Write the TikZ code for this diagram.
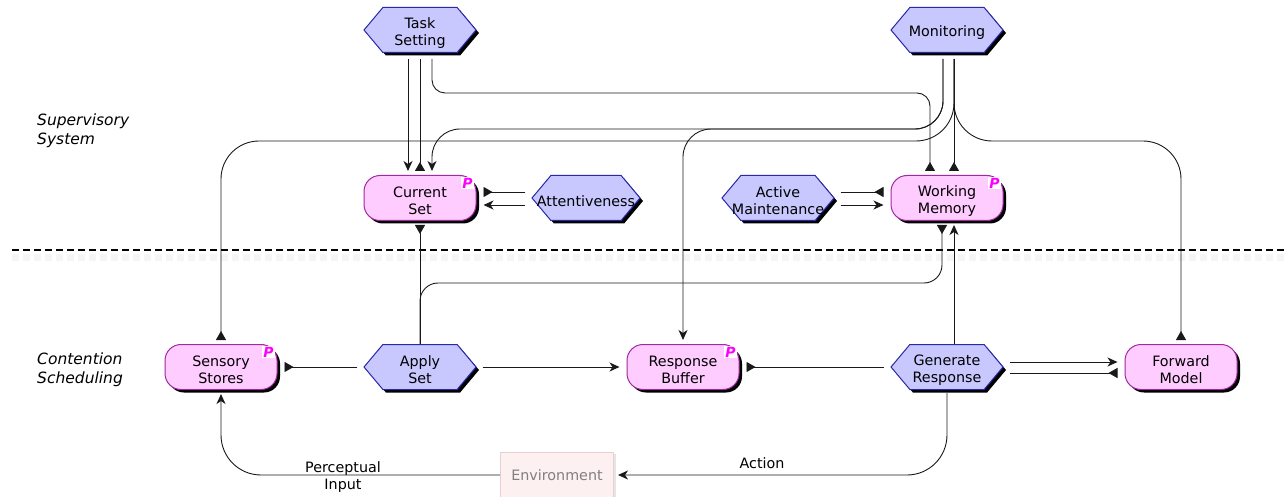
\documentclass[tikz,border=0pt]{standalone}
\usepackage{fontspec}
\setmainfont{DejaVu Sans}
\usetikzlibrary{shapes.symbols,shadows,arrows.meta}
\definecolor{hexfill}{RGB}{200,200,255}
\definecolor{hexdraw}{RGB}{40,40,170}
\definecolor{bufill}{RGB}{255,204,255}
\definecolor{budraw}{RGB}{160,40,160}
\definecolor{envfill}{RGB}{253,240,240}
\definecolor{envdraw}{RGB}{232,208,208}
\definecolor{pcol}{RGB}{255,0,255}
\definecolor{linecol}{RGB}{25,25,25}
\newcommand\ndfont{\fontsize{14.3}{17}\selectfont}
\newcommand\lbfont{\fontsize{15.5}{19}\selectfont\itshape}
\begin{document}
\begin{tikzpicture}[x=1pt,y=-1pt,
  shd/.style={drop shadow={shadow xshift=3pt,shadow yshift=-3pt,fill=black,opacity=1}},
  hexa/.style={signal, signal to=east and west, signal pointer angle=100,
    minimum width=112pt, minimum height=45pt, inner sep=0pt,
    fill=hexfill, draw=hexdraw, line width=1pt, shd},
  ntext/.style={font=\ndfont, align=center, inner sep=0pt},
  buf/.style={rectangle, rounded corners=16pt, minimum width=112pt, minimum height=45pt,
    inner sep=0pt, fill=bufill, draw=budraw, line width=1pt, shd},
  pmark/.style={fill=white, inner sep=1pt, text=pcol, font=\fontsize{14}{14}\selectfont\bfseries\itshape},
  envbox/.style={rectangle, minimum width=113pt, minimum height=46pt, fill=envfill, draw=envdraw,
    line width=1pt, text=black!50, font=\ndfont,
    drop shadow={shadow xshift=2pt,shadow yshift=-2pt,fill=black!10,opacity=1}},
  lbl/.style={font=\lbfont, align=left, inner sep=0pt, anchor=west},
  elab/.style={font=\ndfont, align=center, inner sep=0pt},
  conn/.style={draw=linecol, line width=0.9pt},
  wr/.style={conn, -{Stealth[length=10pt,width=9pt,inset=3pt]}, shorten >=4pt},
  rd/.style={conn, -{Triangle[reversed,length=9pt,width=10pt]}, shorten >=4pt},
]
\useasboundingbox (0,0) rectangle (1286,497);

% separator
\draw[black!4, line width=7pt, dash pattern=on 7pt off 4pt] (12,258) -- (1286,258);
\draw[black, line width=1.2pt, dash pattern=on 7pt off 4pt] (12,250) -- (1286,250);

% level labels
\node[lbl] (lsup) at (37,131) {Supervisory\\System};
\node[lbl] (lcon) at (37,370) {Contention\\Scheduling};

% hexagon processes
\node[hexa] (ts) at (420,30) {};
\node[ntext] (tsT) at ([yshift=-3pt]ts.center) {Task\\Setting};
\node[hexa] (mon) at (947,30) {};
\node[ntext] (monT) at ([yshift=-3pt]mon.center) {Monitoring};
\node[hexa, minimum width=108pt] (att) at (586,198) {};
\node[ntext] (attT) at ([yshift=-3pt]att.center) {Attentiveness};
\node[hexa] (am) at (778,198) {};
\node[ntext] (amT) at ([yshift=-3pt]am.center) {Active\\Maintenance};
\node[hexa] (as) at (420,367) {};
\node[ntext] (asT) at ([yshift=-3pt]as.center) {Apply\\Set};
\node[hexa] (gr) at (947,367) {};
\node[ntext] (grT0) at ([yshift=-3pt]gr.center) {Generate\\Response};

% buffers
\node[buf] (cs) at (420,198) {};
\node[ntext] (csT) at ([yshift=-3pt]cs.center) {Current\\Set};
\node[buf] (wm) at (947,198) {};
\node[ntext] (wmT) at ([yshift=-3pt]wm.center) {Working\\Memory};
\node[buf] (ss) at (221,367) {};
\node[ntext] (ssT) at ([yshift=-3pt]ss.center) {Sensory\\Stores};
\node[buf] (rb) at (683,367) {};
\node[ntext] (rbT) at ([yshift=-3pt]rb.center) {Response\\Buffer};
\node[buf] (fm) at (1181,367) {};
\node[ntext] (fmT) at ([yshift=-3pt]fm.center) {Forward\\Model};
\node[pmark] (csP) at ([xshift=-9pt,yshift=-8pt]cs.north east) {P};
\node[pmark] (wmP) at ([xshift=-9pt,yshift=-8pt]wm.north east) {P};
\node[pmark] (ssP) at ([xshift=-9pt,yshift=-8pt]ss.north east) {P};
\node[pmark] (rbP) at ([xshift=-9pt,yshift=-8pt]rb.north east) {P};

% environment
\node[envbox] (env) at (557,475) {Environment};

% anchor points
\coordinate (tsL) at ([xshift=-12pt]ts.south);
\coordinate (tsM) at (ts.south);
\coordinate (tsR) at ([xshift=12pt]ts.south);
\coordinate (csL) at ([xshift=-12pt]cs.north);
\coordinate (csM) at (cs.north);
\coordinate (csR) at ([xshift=12pt]cs.north);
\coordinate (monL) at ([xshift=-4pt]mon.south);
\coordinate (monR) at ([xshift=7pt]mon.south);
\coordinate (wmTL) at ([xshift=-17pt]wm.north);
\coordinate (wmTR) at ([xshift=7pt]wm.north);
\coordinate (wmBL) at ([xshift=-5pt]wm.south);
\coordinate (wmBR) at ([xshift=7pt]wm.south);
\coordinate (grT) at ([xshift=7pt]gr.north);
\coordinate (lvA) at (0,93);
\coordinate (lvB) at (0,129);
\coordinate (lvC) at (0,141);
\coordinate (lvD) at (0,283);

% Task Setting
\draw[wr, shorten <=6pt] (tsL) -- (csL);
\draw[rd, shorten <=6pt] (tsM) -- (csM);
\draw[rd, shorten <=6pt] (tsR) [rounded corners=13pt] |- (lvA -| wmTL) [rounded corners=32pt] -- (wmTL);

% Monitoring
\draw[wr, shorten <=6pt] (monL) [rounded corners=28pt] |- (lvB -| csR) [rounded corners=15pt] -- (csR);
\draw[wr, shorten <=6pt] (monL) [rounded corners=28pt] |- (lvB -| rb.north) [rounded corners=88pt] -- (rb.north);
\draw[rd, shorten <=6pt] (monR) -- (wmTR);
\draw[rd, shorten <=6pt] (monR) [rounded corners=38pt] |- (lvC -| ss.north) [rounded corners=80pt] -- (ss.north);
\draw[rd, shorten <=6pt] (monR) [rounded corners=38pt] |- (lvC -| fm.north) [rounded corners=75pt] -- (fm.north);

% Attentiveness / Active Maintenance
\draw[rd, shorten <=6pt, shorten >=7pt] ([yshift=6pt]att.west) -- ([yshift=6pt]cs.east);
\draw[wr, shorten <=6pt, shorten >=7pt] ([yshift=-7pt]att.west) -- ([yshift=-7pt]cs.east);
\draw[rd, shorten <=6pt, shorten >=7pt] ([yshift=6pt]am.east) -- ([yshift=6pt]wm.west);
\draw[wr, shorten <=6pt, shorten >=7pt] ([yshift=-7pt]am.east) -- ([yshift=-7pt]wm.west);

% Apply Set
\draw[rd] (as.north) -- (cs.south);
\draw[rd] (as.north) [rounded corners=18pt] |- (lvD -| wmBL) [rounded corners=28pt] -- (wmBL);
\draw[rd, shorten <=6pt, shorten >=7pt] (as.west) -- (ss.east);
\draw[wr, shorten <=6pt, shorten >=7pt] (as.east) -- (rb.west);

% Generate Response
\draw[wr] (grT) -- (wmBR);
\draw[rd, shorten <=6pt, shorten >=7pt] (gr.west) -- (rb.east);
\draw[wr, shorten <=6pt, shorten >=7pt] ([yshift=5pt]gr.east) -- ([yshift=5pt]fm.west);
\draw[rd, shorten <=6pt, shorten >=7pt] ([yshift=-6pt]gr.east) -- ([yshift=-6pt]fm.west);
\draw[wr, shorten <=3pt] (gr.south) [rounded corners=40pt] |- (env.east);
\node[elab] (lact) at (762,463) {Action};

% Environment
\draw[wr] (env.west) [rounded corners=40pt] -| (ss.south);
\node[elab] (lper) at (343,477) {Perceptual\\Input};
\end{tikzpicture}
\end{document}
